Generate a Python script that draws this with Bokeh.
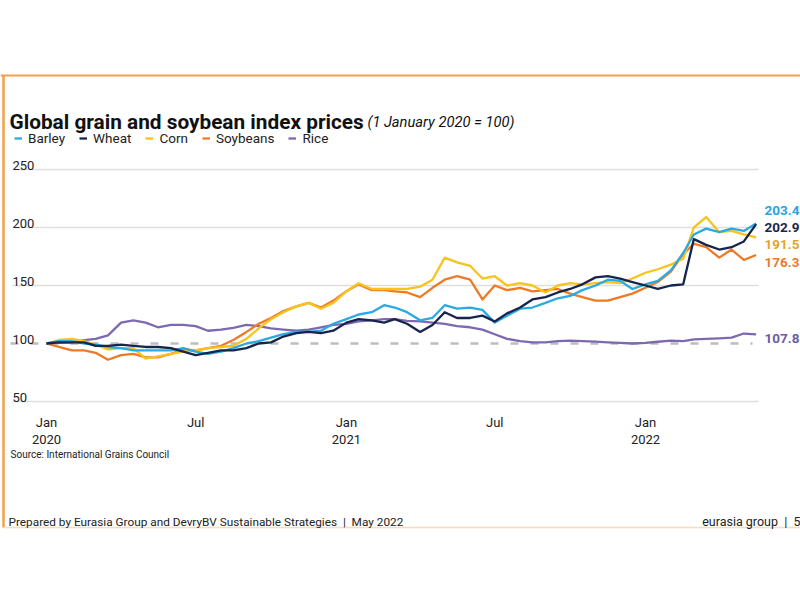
import pandas as pd
from bokeh.plotting import figure
from bokeh.models import Range1d, Legend, LegendItem
from bokeh.core.properties import value
from bokeh.embed import file_html
from bokeh.resources import INLINE

# ---------------- data (semi-monthly readings, 1 January 2020 = 100) ----------------
dates = pd.to_datetime([f"{y}-{m:02d}-{d:02d}"
                        for y in (2020, 2021, 2022) for m in range(1, 13) for d in (1, 16)
                        if (y, m) <= (2022, 5)])

barley = [100, 102, 102, 100, 99, 97, 96, 94, 94, 94,
          94, 96, 93, 91, 93, 96, 100, 102, 105, 108,
          110, 110, 111, 117, 121, 125, 127, 133, 131, 127,
          120, 122, 133, 130, 131, 129, 118, 124, 130, 131,
          135, 139, 141, 146, 150, 155, 154, 147, 151, 154,
          163, 178, 194, 199, 196, 199, 197, 203.4]
wheat = [100, 101, 101, 101, 98, 98, 99, 98, 97, 97,
         96, 93, 90, 92, 94, 94, 96, 100, 101, 106,
         109, 110, 109, 111, 118, 121, 120, 118, 121, 117,
         110, 116, 127, 122, 122, 124, 119, 126, 131, 138,
         140, 144, 147, 151, 157, 158, 156, 153, 150, 147,
         150, 151, 190, 185, 181, 183, 188, 202.9]
corn = [100, 103, 104, 102, 99, 95, 96, 96, 87, 89,
        91, 93, 94, 96, 97, 98, 104, 113, 121, 127,
        132, 135, 130, 135, 145, 152, 147, 147, 147, 147,
        149, 155, 174, 170, 167, 156, 158, 150, 152, 150,
        144, 150, 152, 151, 152, 153, 152, 156, 161, 164,
        168, 173, 200, 209, 196, 197, 194, 191.5]
soybeans = [100, 97, 94, 94, 92, 86, 90, 91, 88, 88,
            91, 95, 94, 96, 98, 103, 110, 117, 122, 128,
            132, 135, 131, 137, 145, 151, 146, 146, 145, 144,
            140, 148, 155, 158, 155, 138, 150, 146, 148, 145,
            146, 147, 143, 140, 137, 137, 140, 143, 148, 153,
            162, 177, 186, 183, 174, 181, 172, 176.3]
rice = [100, 100.5, 101, 103, 104, 107, 118, 120, 118, 114,
        116, 116, 115, 111, 112, 113.5, 116, 115, 113, 112,
        111, 112, 114, 116, 117, 119, 120, 121, 121, 119.5,
        119, 118, 117, 115, 114, 112, 108, 104, 102, 101,
        101, 102, 102.5, 102, 101.7, 101, 100.5, 100, 100.5, 101.5,
        102.5, 102, 103.5, 104, 104.5, 105, 108.6, 107.8]

series_names = ["Barley", "Wheat", "Corn", "Soybeans", "Rice"]
series_values = {"Barley": barley, "Wheat": wheat, "Corn": corn,
                 "Soybeans": soybeans, "Rice": rice}

y_ticks = [50, 100, 150, 200, 250]
x_tick_dates = pd.to_datetime(["2020-01-01", "2020-07-01", "2021-01-01", "2021-07-01", "2022-01-01"])
x_tick_month = ["Jan", "Jul", "Jan", "Jul", "Jan"]
x_tick_year = ["2020", "", "2021", "", "2022"]

# ---------------- styles ----------------
line_colors = {"Barley": "#29aae2", "Wheat": "#17244b", "Corn": "#f7c31c",
               "Soybeans": "#ee7a25", "Rice": "#7d69b1"}
label_colors = {"Barley": "#2aa5dc", "Wheat": "#1b2749", "Corn": "#e3a42c",
                "Soybeans": "#ea7b2e", "Rice": "#6c5ca4"}
FONT_NAME = "Roboto"
FONT = value(FONT_NAME)

# layout helpers: page pixel -> data coordinates
X0 = pd.Timestamp("2020-01-01")
PX_PER_DAY = 599 / 731


def xd(px):
    return X0 + pd.Timedelta(days=(px - 46) / PX_PER_DAY)


def yv(py):
    return 100 + (343 - py) / 1.16


W, H = 800, 600
p = figure(width=W, height=H, x_axis_type="datetime",
           x_range=Range1d(xd(0), xd(W)), y_range=Range1d(yv(H), yv(0)),
           x_axis_location=None, y_axis_location=None,
           toolbar_location=None, output_backend="svg", min_border=0)
p.outline_line_color = None
p.background_fill_color = "white"
p.border_fill_color = "white"
p.xgrid.visible = False
p.ygrid.visible = False

# frame
p.segment(x0=[xd(0)], x1=[xd(800)], y0=[yv(75)], y1=[yv(75)], line_color="#f3a14a", line_width=2)
p.segment(x0=[xd(3)], x1=[xd(3)], y0=[yv(75)], y1=[yv(527)], line_color="#f3a14a", line_width=2.5)
p.segment(x0=[xd(3)], x1=[xd(800)], y0=[yv(527)], y1=[yv(527)], line_color="#f8dcc0", line_width=1.5)

# grid lines
grid_vals = [v for v in y_ticks if v != 100]
p.segment(x0=[xd(12)] * len(grid_vals), x1=[xd(758)] * len(grid_vals),
          y0=grid_vals, y1=grid_vals, line_color="#dedede", line_width=1.5)
p.segment(x0=[xd(10)], x1=[xd(752)], y0=[100], y1=[100],
          line_color="#bdbdbd", line_width=2.5, line_dash="8 12")

# y tick labels
p.text(x=[xd(12)] * len(y_ticks), y=y_ticks, text=[str(v) for v in y_ticks],
       y_offset=-4.5, text_font=FONT, text_font_size="13px", text_color="#222222",
       text_baseline="alphabetic", text_align="left")

# x tick labels
p.text(x=x_tick_dates, y=[yv(422)] * len(x_tick_dates), text=x_tick_month,
       text_font=FONT, text_font_size="13px", text_color="#222222",
       text_baseline="alphabetic", text_align="center")
p.text(x=x_tick_dates, y=[yv(439)] * len(x_tick_dates), text=x_tick_year,
       text_font=FONT, text_font_size="13px", text_color="#222222",
       text_baseline="alphabetic", text_align="center")

# series lines
renderers = {}
for name in ["Rice", "Soybeans", "Corn", "Barley", "Wheat"]:
    renderers[name] = p.line(dates, series_values[name], line_color=line_colors[name],
                             line_width=2.3, line_join="round")

# end labels
end_label_py = {"Barley": 210, "Wheat": 227, "Corn": 244, "Soybeans": 262, "Rice": 338}
for name in series_names:
    p.text(x=[xd(764)], y=[yv(end_label_py[name])],
           text=[f"{series_values[name][-1]:.1f}"],
           text_font=FONT, text_font_size="13.5px", text_font_style="bold",
           text_color=label_colors[name], text_baseline="alphabetic", text_align="left")

# title
p.text(x=[xd(9)], y=[yv(121)], text=["Global grain and soybean index prices"],
       text_font=FONT, text_font_size="20.8px", text_font_style="bold",
       text_color="#111111", text_baseline="alphabetic", text_align="left")
p.text(x=[xd(367)], y=[yv(121)], text=["(1 January 2020 = 100)"],
       text_font=FONT, text_font_size="14.7px", text_font_style="italic",
       text_color="#111111", text_baseline="alphabetic", text_align="left")

# legend
legend = Legend(items=[LegendItem(label=n, renderers=[renderers[n]]) for n in series_names],
                orientation="horizontal", location=(14, 452),
                glyph_width=8, glyph_height=20, label_height=20, label_standoff=6,
                spacing=14, padding=0, margin=0,
                border_line_color=None, background_fill_alpha=0,
                label_text_font=FONT_NAME, label_text_font_size="13.5px",
                label_text_color="#222222")
p.add_layout(legend)

# source and footer
p.text(x=[xd(10)], y=[yv(454)], text=["Source: International Grains Council"],
       text_font=FONT, text_font_size="10px", text_color="#222222",
       text_baseline="alphabetic", text_align="left")
p.text(x=[xd(8)], y=[yv(521)],
       text=["Prepared by Eurasia Group and DevryBV Sustainable Strategies \u00a0|\u00a0 May 2022"],
       text_font=FONT, text_font_size="11.8px", text_color="#222222",
       text_baseline="alphabetic", text_align="left")
p.text(x=[xd(800)], y=[yv(521)], text=["eurasia group \u00a0|\u00a0 5"],
       text_font=FONT, text_font_size="12.5px", text_color="#222222",
       text_baseline="alphabetic", text_align="right")

open("out.html", "w").write(file_html(p, INLINE))
